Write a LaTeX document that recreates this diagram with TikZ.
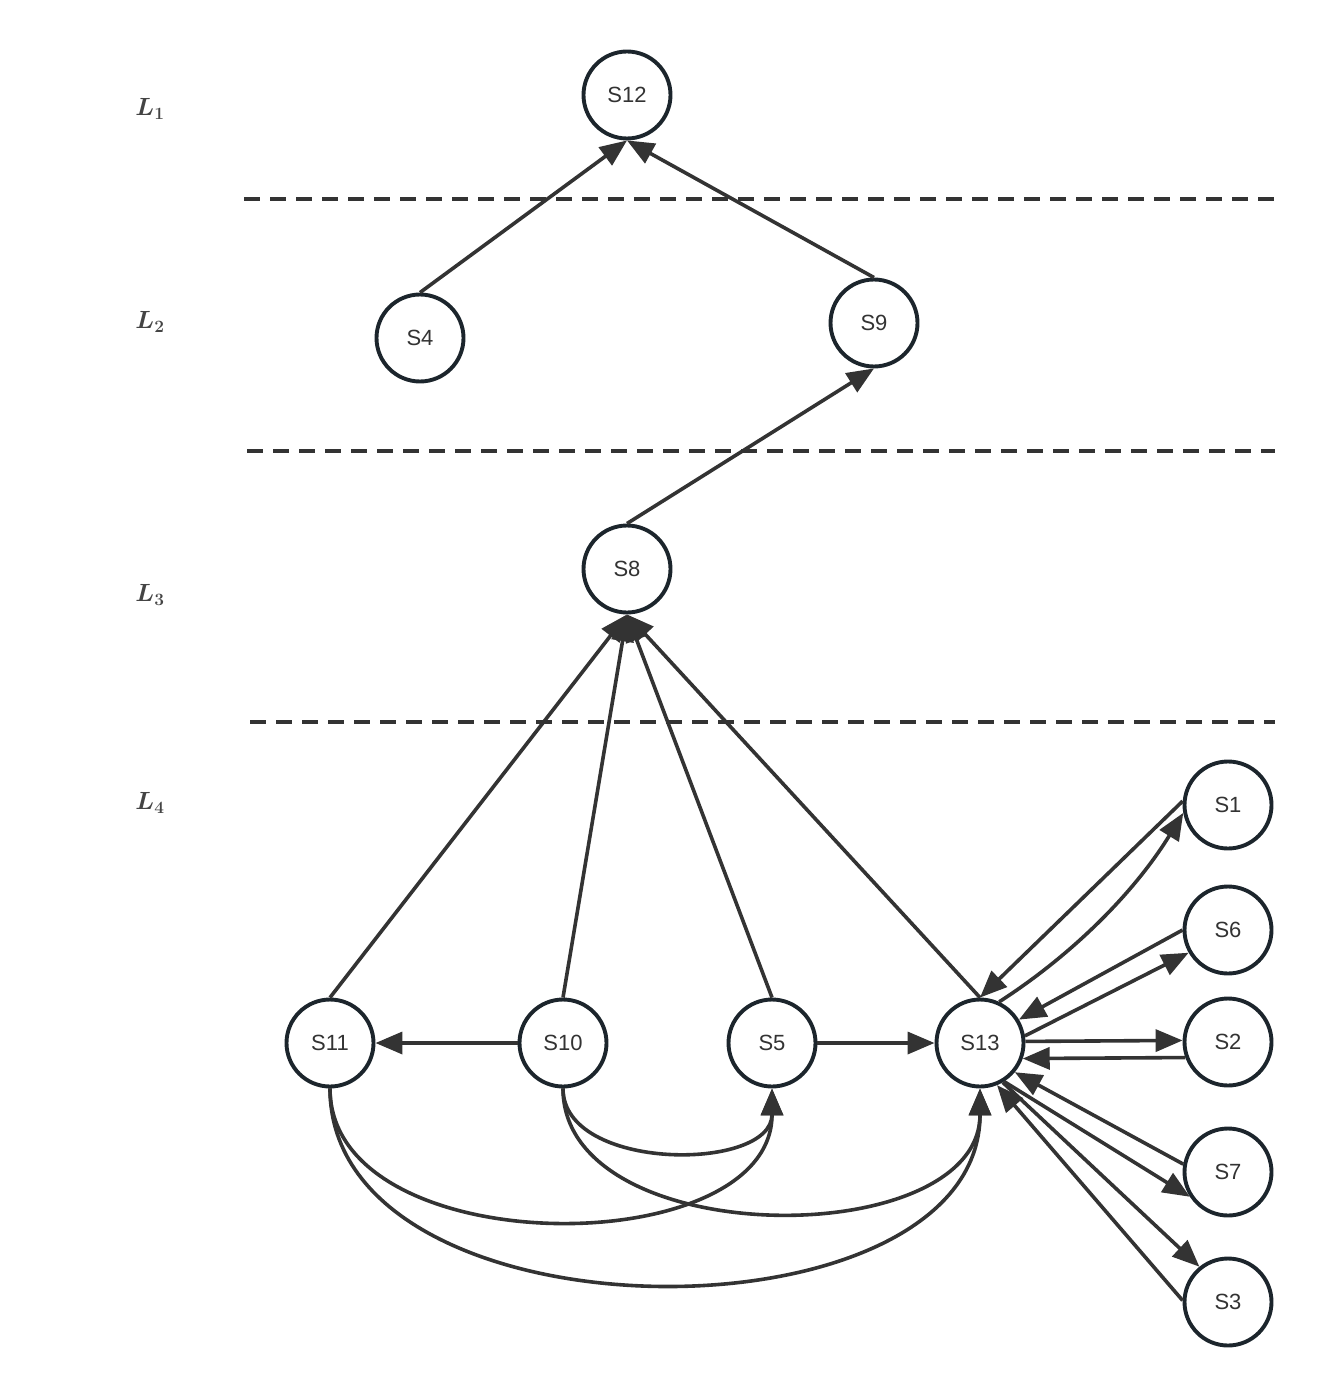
\documentclass[tikz,border=0pt]{standalone}
\usepackage{bm}
\usepackage{fontspec}
\newfontfamily\nodefont{Liberation Sans}
\usetikzlibrary{arrows.meta}
\definecolor{edgec}{HTML}{333333}
\definecolor{ringc}{HTML}{1C252C}
\definecolor{labc}{HTML}{444444}
\begin{document}
\begin{tikzpicture}[x=1pt,y=-1pt,
  st/.style={circle,draw=ringc,line width=3.9pt,minimum size=87pt,inner sep=0pt,fill=white,
    font=\nodefont\fontsize{22}{25}\selectfont,text=edgec},
  ed/.style={draw=edgec,line width=3.6pt,-{Triangle[length=27pt,width=22pt]}},
  sepline/.style={draw=edgec,line width=3.6pt,dash pattern=on 16pt off 10pt},
  levlab/.style={text=labc,font=\fontsize{25}{28}\selectfont}]
\useasboundingbox (0,0) rectangle (1323,1396);
% separators
\coordinate (d1a) at (244,199); \coordinate (d1b) at (1275,199);
\coordinate (d2a) at (247,451); \coordinate (d2b) at (1275,451);
\coordinate (d3a) at (250,722); \coordinate (d3b) at (1275,722);
\draw[sepline] (d1a) -- (d1b);
\draw[sepline] (d2a) -- (d2b);
\draw[sepline] (d3a) -- (d3b);
% level labels
\node[levlab] (la) at (150,109) {$\bm{L}_{\bm{1}}$};
\node[levlab] (lb) at (150,322) {$\bm{L}_{\bm{2}}$};
\node[levlab] (lc) at (150,595) {$\bm{L}_{\bm{3}}$};
\node[levlab] (ld) at (150,803) {$\bm{L}_{\bm{4}}$};
% nodes
\node[st] (s12) at (627,95) {S12};
\node[st] (s4) at (420,338) {S4};
\node[st] (s9) at (874,323) {S9};
\node[st] (s8) at (627,569) {S8};
\node[st] (s11) at (330,1043) {S11};
\node[st] (s10) at (563,1043) {S10};
\node[st] (s5) at (772,1043) {S5};
\node[st] (s13) at (980,1043) {S13};
\node[st] (s1) at (1228,805) {S1};
\node[st] (s6) at (1228,930) {S6};
\node[st] (s2) at (1228,1042) {S2};
\node[st] (s7) at (1228,1172) {S7};
\node[st] (s3) at (1228,1302) {S3};
% upper edges
\draw[ed] (s4.north) -- (s12.south);
\draw[ed] (s9.north) -- (s12.south);
\draw[ed] (s8.north) -- (s9.south);
\draw[ed] (s11.north) -- (s8.south);
\draw[ed] (s10.north) -- (s8.south);
\draw[ed] (s5.north) -- (s8.south);
\draw[ed] (s13.north) -- (s8.south);
% row edges
\draw[ed] (s10.west) -- (s11.east);
\draw[ed] (s5.east) -- (s13.west);
% bottom curves
\draw[ed] (s10.south) .. controls (563,1172) and (772,1172) .. (s5.south);
\draw[ed] (s11.south) .. controls (330,1264) and (772,1264) .. (s5.south);
\draw[ed] (s10.south) .. controls (563,1253) and (980,1253) .. (s13.south);
\draw[ed] (s11.south) .. controls (330,1348) and (980,1348) .. (s13.south);
% S13 cluster
\draw[ed] (s1.175) -- (s13.north);
\draw[ed] (s13.65) .. controls (1075,953) and (1136,890) .. (s1.190);
\draw[ed] (s6.180) -- (s13.31);
\draw[ed] (s13.9) -- (s6.210);
\draw[ed] (s13.2) -- (s2.178);
\draw[ed] (s2.-160) -- (s13.-20);
\draw[ed] (s7.170) -- (s13.-40);
\draw[ed] (s13.-58) -- (s7.213);
\draw[ed] (s3.178) -- (s13.-68);
\draw[ed] (s13.-60) -- (s3.129);
\end{tikzpicture}
\end{document}
